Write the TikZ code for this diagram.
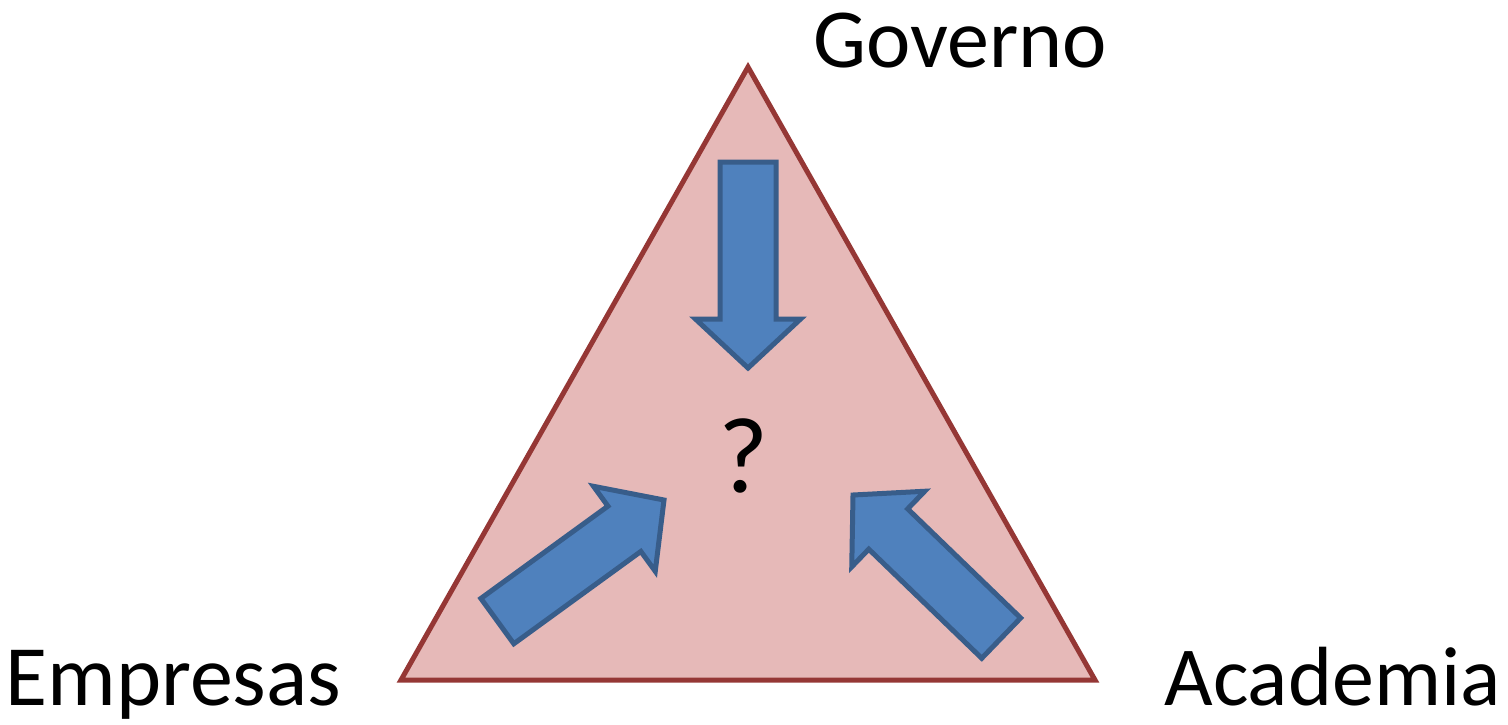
\documentclass[tikz,border=0pt]{standalone}
\usepackage{fontspec}
\setmainfont{Carlito}
\usepackage{xcolor}
\usepackage{tikz}
\usetikzlibrary{shapes}

\definecolor{trifill}{HTML}{E6B9B8}
\definecolor{triline}{HTML}{953735}
\definecolor{arrowfill}{HTML}{4F81BD}
\definecolor{arrowline}{HTML}{385D8A}

\begin{document}
\begin{tikzpicture}[x=0.5pt, y=-0.5pt,
    lbl/.style={inner sep=0pt, font=\fontsize{42}{50}\selectfont},
    bigarrow/.style={single arrow, draw=arrowline, fill=arrowfill, line width=2.5pt, inner sep=12.75pt, outer sep=0pt, minimum height=103pt, minimum width=51pt, single arrow tip angle=94, single arrow head extend=12.25pt, anchor=tip}]

    \useasboundingbox (0,0) rectangle (1508,724);

    % triangle corners
    \coordinate (apex) at (748,67);
    \coordinate (baseleft) at (401,680);
    \coordinate (baseright) at (1095,680);
    \filldraw[fill=trifill, draw=triline, line width=2.5pt] (apex) -- (baseleft) -- (baseright) -- cycle;

    % arrows pointing inwards
    \node[bigarrow, rotate=-90] (fromgov) at (748,368) {};
    \node[bigarrow, rotate=36] (fromemp) at (664,500) {};
    \node[bigarrow, rotate=136] (fromacad) at (853,495) {};

    \node[inner sep=0pt, anchor=base, font=\fontsize{54}{64}\selectfont] (question) at (744,492) {?};

    \node[lbl, anchor=base west] (governo) at (813,67) {Governo};
    \node[lbl, anchor=base west] (empresas) at (5,705) {\fontsize{43}{50}\selectfont Empresas};
    \node[lbl, anchor=base west] (academia) at (1164,705) {Academia};
\end{tikzpicture}
\end{document}
